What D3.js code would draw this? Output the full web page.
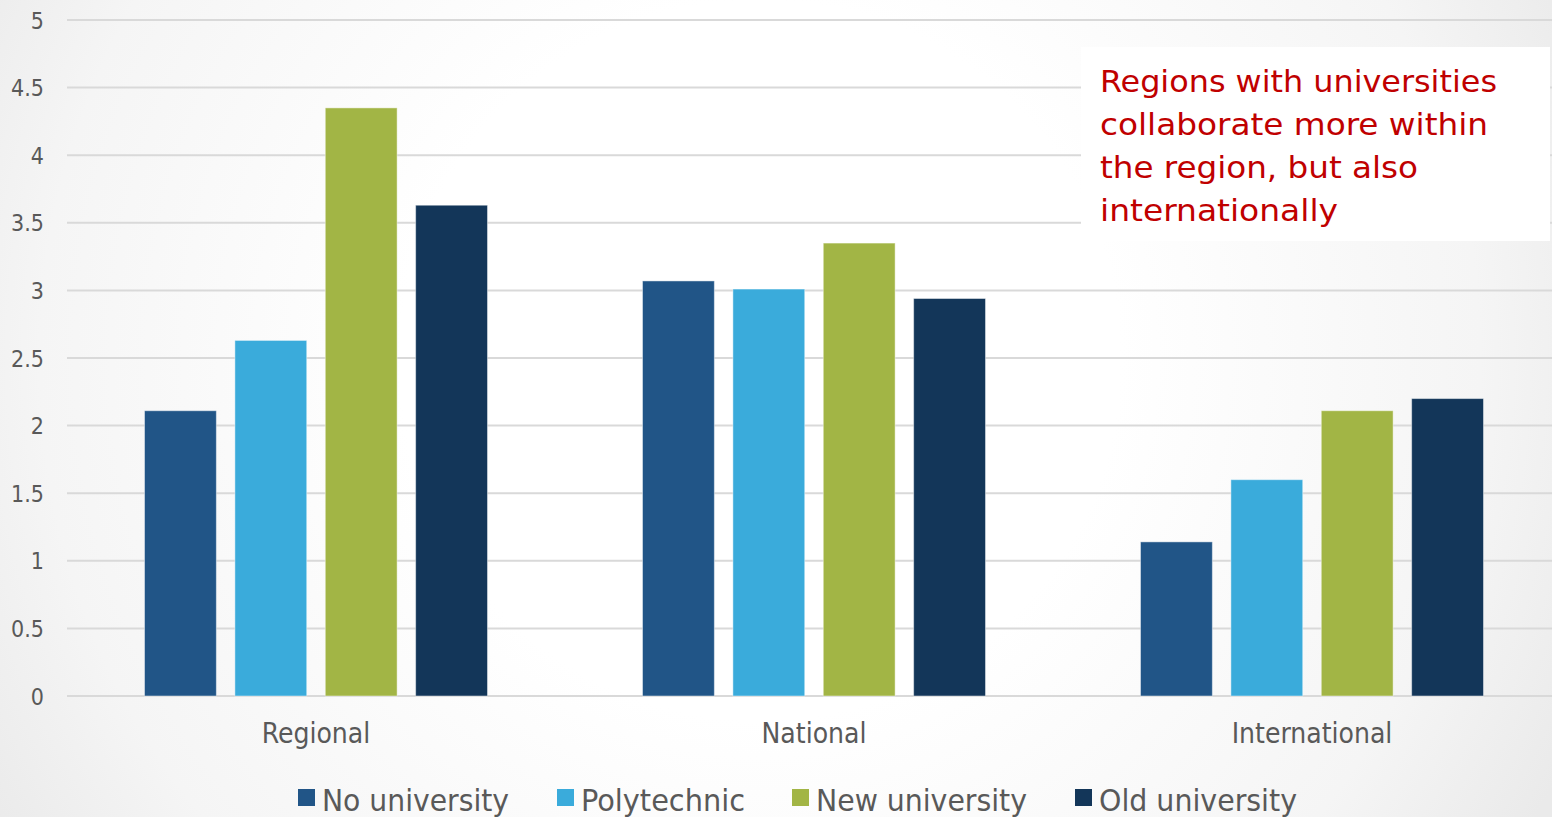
<!DOCTYPE html>
<html>
<head>
<meta charset="utf-8">
<script src="https://cdn.jsdelivr.net/npm/d3@7"></script>
<style>
  html, body { margin: 0; padding: 0; background: #fff; }
  svg { display: block; }
  text { font-family: "DejaVu Sans Condensed", "DejaVu Sans", sans-serif; font-stretch: condensed; }
</style>
</head>
<body>
<svg id="chart" width="1552" height="817"></svg>
<script>
// Collaboration scores by scope and type of region
const categories = ["Regional", "National", "International"];
const seriesNames = ["No university", "Polytechnic", "New university", "Old university"];
const noUniversity = [2.11, 3.07, 1.14];
const polytechnic = [2.63, 3.01, 1.60];
const newUniversity = [4.35, 3.35, 2.11];
const oldUniversity = [3.63, 2.94, 2.20];
const seriesValues = [noUniversity, polytechnic, newUniversity, oldUniversity];
const seriesColors = ["#215587", "#3aabdb", "#a2b545", "#133659"];
const yTicks = [0, 0.5, 1, 1.5, 2, 2.5, 3, 3.5, 4, 4.5, 5];
const noteLines = ["Regions with universities", "collaborate more within", "the region, but also", "internationally"];

const W = 1552, H = 817;
const svg = d3.select("#chart");

// soft slide background
const defs = svg.append("defs");
const bg = defs.append("radialGradient").attr("id", "bg")
  .attr("gradientUnits", "userSpaceOnUse")
  .attr("cx", 760).attr("cy", 360).attr("r", 900);
bg.append("stop").attr("offset", "0.4").attr("stop-color", "#ffffff");
bg.append("stop").attr("offset", "0.8").attr("stop-color", "#f5f5f5");
bg.append("stop").attr("offset", "1").attr("stop-color", "#eaeaea");
svg.append("rect").attr("width", W).attr("height", H).attr("fill", "url(#bg)");

const plotLeft = 67, plotRight = 1561, yTop = 20, yBottom = 696;

const x = d3.scaleBand().domain(categories).range([plotLeft, plotRight]).paddingInner(0).paddingOuter(0);
const y = d3.scaleLinear().domain([0, 5]).range([yBottom, yTop]);
const innerW = 343;
const xs = d3.scaleBand().domain(seriesNames).range([0, innerW]).paddingInner(0.205).paddingOuter(0);

// gridlines
svg.append("g").selectAll("line").data(yTicks).join("line")
  .attr("x1", plotLeft).attr("x2", W)
  .attr("y1", d => y(d)).attr("y2", d => y(d))
  .attr("stroke", "#d9d9d9").attr("stroke-width", 2);

// y axis labels
const yAxis = d3.axisLeft(y).tickValues(yTicks).tickSize(0).tickPadding(0)
  .tickFormat(d => d3.format("")(d));
const gy = svg.append("g").attr("transform", `translate(44,0)`).call(yAxis);
gy.select(".domain").remove();
gy.selectAll("text").attr("fill", "#595959").attr("font-size", 23)
  .style("font-family", '"DejaVu Sans Condensed", "DejaVu Sans", sans-serif').attr("dy", "0.35em");

// bars
const groups = svg.append("g").selectAll("g").data(categories).join("g")
  .attr("transform", c => `translate(${x(c) + (x.bandwidth() - innerW) / 2},0)`);
groups.selectAll("rect").data((c, i) => seriesNames.map((s, k) => ({ s, k, v: seriesValues[k][i] })))
  .join("rect")
  .attr("x", d => xs(d.s))
  .attr("width", xs.bandwidth())
  .attr("y", d => y(d.v))
  .attr("height", d => y(0) - y(d.v))
  .attr("fill", d => seriesColors[d.k])
  .attr("stroke", "rgba(255,255,255,0.45)")
  .attr("stroke-width", 1);

// category labels
const xAxis = d3.axisBottom(x).tickSize(0).tickPadding(0);
const gx = svg.append("g").attr("transform", `translate(0,${yBottom})`).call(xAxis);
gx.select(".domain").remove();
gx.selectAll("text").attr("fill", "#595959").attr("font-size", 28).attr("y", 47).attr("dy", 0)
  .style("font-family", '"DejaVu Sans Condensed", "DejaVu Sans", sans-serif');

// legend
const legendX = [298, 557, 792, 1075];
const legendW = [187, 164, 211, 198];
const legend = svg.append("g").selectAll("g").data(seriesNames).join("g")
  .attr("transform", (d, i) => `translate(${legendX[i]},789)`);
legend.append("rect").attr("width", 17).attr("height", 17).attr("fill", (d, i) => seriesColors[i]);
legend.append("text").attr("x", 24).attr("y", 22).attr("font-size", 31).attr("fill", "#595959")
  .attr("textLength", (d, i) => legendW[i]).attr("lengthAdjust", "spacingAndGlyphs")
  .text(d => d);

// annotation box
svg.append("rect").attr("x", 1081).attr("y", 47).attr("width", 469).attr("height", 194).attr("fill", "#ffffff");
const noteW = [397, 388, 318, 238];
svg.append("g").selectAll("text").data(noteLines).join("text")
  .attr("x", 1100).attr("y", (d, i) => 92 + i * 43)
  .attr("font-size", 31).attr("fill", "#c00000")
  .attr("textLength", (d, i) => noteW[i]).attr("lengthAdjust", "spacingAndGlyphs")
  .text(d => d);
</script>
</body>
</html>
